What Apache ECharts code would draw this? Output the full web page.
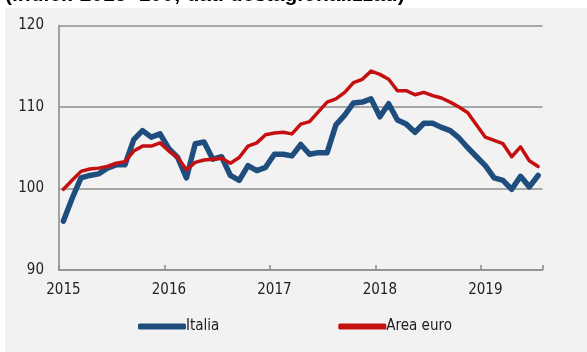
<!DOCTYPE html>
<html>
<head>
<meta charset="utf-8">
<script src="https://cdn.jsdelivr.net/npm/echarts@6/dist/echarts.min.js"></script>
<style>
  html, body { margin: 0; padding: 0; background: #ffffff; }
  #chart { width: 587px; height: 352px; }
</style>
</head>
<body>
<div id="chart"></div>
<script>
// Monthly index values, Jan 2015 - Jul 2019 (2015 = 100)
const years = [2015, 2016, 2017, 2018, 2019];
const monthsPerYear = 12;
const monthCount = 55;

const italia = [
  96.0, 98.8, 101.3, 101.6, 101.8, 102.5, 102.9, 102.9, 106.0, 107.1, 106.3, 106.7,
  104.9, 103.8, 101.3, 105.5, 105.7, 103.6, 103.9, 101.6, 101.0, 102.8, 102.2, 102.6,
  104.2, 104.2, 104.0, 105.4, 104.2, 104.4, 104.4, 107.8, 109.0, 110.5, 110.6, 111.0,
  108.8, 110.4, 108.4, 107.9, 106.9, 108.0, 108.0, 107.5, 107.1, 106.2, 105.0, 103.9,
  102.8, 101.3, 101.0, 99.9, 101.5, 100.2, 101.6
];

const areaEuro = [
  99.9, 101.0, 102.1, 102.4, 102.5, 102.7, 103.1, 103.3, 104.6, 105.2, 105.2, 105.6,
  104.6, 103.8, 102.3, 103.2, 103.5, 103.6, 103.7, 103.1, 103.8, 105.2, 105.6, 106.6,
  106.8, 106.9, 106.7, 107.9, 108.2, 109.4, 110.6, 111.0, 111.8, 113.0, 113.4, 114.4,
  114.0, 113.4, 112.0, 112.0, 111.5, 111.8, 111.4, 111.1, 110.6, 110.0, 109.3, 107.8,
  106.3, 105.9, 105.5, 103.9, 105.1, 103.4, 102.7
];

const yTicks = { min: 90, max: 120, step: 10 };
const titleText = '(indici: 2015=100; dati destagionalizzati)';

// Category labels "YYYY-MM"
const months = [];
for (let i = 0; i < monthCount; i++) {
  const y = years[0] + Math.floor(i / monthsPerYear);
  const m = (i % monthsPerYear) + 1;
  months.push(y + '-' + (m < 10 ? '0' + m : m));
}

const FONT = "'DejaVu Sans Condensed', 'Liberation Sans Narrow', 'Liberation Sans', Arial, sans-serif";
const GRID_GRAY = '#8e8e8e';
const TEXT = '#222222';

const chart = echarts.init(document.getElementById('chart'), null, { renderer: 'canvas' });

chart.setOption({
  backgroundColor: '#ffffff',
  animation: false,
  graphic: [
    {
      type: 'rect',
      z: -10,
      silent: true,
      shape: { x: 5, y: 8, width: 590, height: 350 },
      style: { fill: '#f2f2f2' }
    },
    {
      type: 'text',
      z: 10,
      left: 5,
      top: -15,
      style: {
        text: titleText,
        font: "bold 21px 'Liberation Sans', Arial, sans-serif",
        fill: '#000000'
      }
    }
  ],
  grid: { left: 59, right: 44.5, top: 25.5, bottom: 82, containLabel: false },
  legend: {
    data: ['Italia', 'Area euro'],
    left: 133,
    top: 314,
    icon: 'roundRect',
    itemWidth: 48,
    itemHeight: 6,
    itemGap: 119,
    textStyle: { fontFamily: FONT, fontSize: 15, color: TEXT, padding: [0, 0, 0, -5] }
  },
  xAxis: {
    type: 'category',
    data: months,
    boundaryGap: true,
    axisLine: { lineStyle: { color: GRID_GRAY, width: 1.6 } },
    axisTick: { show: true, inside: true, length: 5, interval: monthsPerYear - 1, lineStyle: { color: GRID_GRAY, width: 1.6 } },
    axisLabel: {
      interval: monthsPerYear - 1,
      formatter: v => v.slice(0, 4),
      fontFamily: FONT,
      fontSize: 15,
      color: TEXT,
      margin: 13
    },
    splitLine: { show: false }
  },
  yAxis: {
    type: 'value',
    min: yTicks.min,
    max: yTicks.max,
    interval: yTicks.step,
    axisLine: { show: true, lineStyle: { color: GRID_GRAY, width: 1.6 } },
    axisTick: { show: false },
    axisLabel: { fontFamily: FONT, fontSize: 15, color: TEXT, margin: 15 },
    splitLine: { show: true, lineStyle: { color: GRID_GRAY, width: 1.6 } }
  },
  series: [
    {
      name: 'Italia',
      type: 'line',
      data: italia,
      symbol: 'none',
      lineStyle: { color: '#1f4e7e', width: 5.5, cap: 'round', join: 'round' },
      itemStyle: { color: '#1f4e7e' },
      z: 2
    },
    {
      name: 'Area euro',
      type: 'line',
      data: areaEuro,
      symbol: 'none',
      lineStyle: { color: '#c41010', width: 3.5, cap: 'round', join: 'round' },
      itemStyle: { color: '#c41010' },
      z: 3
    }
  ]
});
</script>
</body>
</html>
